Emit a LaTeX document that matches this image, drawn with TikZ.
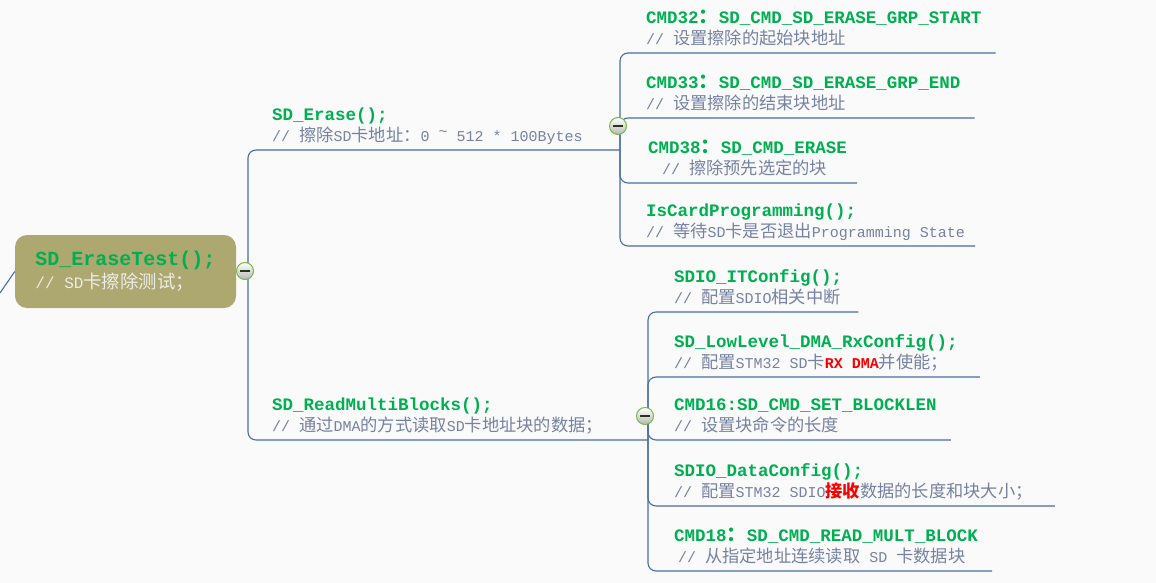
\documentclass[tikz,border=0pt]{standalone}
\usepackage{fontspec}
\usepackage{xcolor}
\usepackage{tikz}
\usetikzlibrary{positioning, calc}
\setmainfont{Liberation Mono}
\newfontfamily\cjk{Noto Sans CJK SC}[Scale=1.15]
\definecolor{codegreen}{RGB}{0,176,80}
\definecolor{notegray}{RGB}{118,130,162}
\definecolor{rootnote}{RGB}{236,236,230}
\definecolor{linkblue}{RGB}{72,110,168}
\definecolor{olive1}{RGB}{173,167,112}
\definecolor{foldgreen}{RGB}{118,186,64}
\definecolor{hotred}{RGB}{250,0,0}
\definecolor{paper}{RGB}{250,250,251}
\newcommand{\zh}[1]{{\cjk #1}}
\newcommand{\fn}[1]{{\color{codegreen}\bfseries\fontsize{17.5}{21}\selectfont #1}}
\newcommand{\cm}[1]{{\color{notegray}#1\strut}}
\newcommand{\hl}[1]{\textcolor{hotred}{\bfseries #1}}
\newcommand{\hitilde}{\raisebox{0.3em}{\textasciitilde}}

\begin{document}
\begin{tikzpicture}[
  x=1pt, y=-1pt,
  font=\fontsize{15}{21}\selectfont,
  topic/.style={anchor=south west, inner xsep=0pt, inner ysep=2pt, align=left},
  rootbox/.style={rectangle, rounded corners=12pt, fill=olive1, inner xsep=20pt,
                  minimum width=221pt, minimum height=73pt, align=left,
                  font=\fontsize{16}{23}\selectfont},
  link/.style={draw=linkblue, line width=1.1pt, rounded corners=8pt},
  fold/.style={circle, draw=foldgreen, line width=1pt, top color=white,
               bottom color=black!28, minimum size=17pt, inner sep=0pt,
               path picture={\draw[black!70!foldgreen, line width=1.6pt]
                 ([xshift=-5pt]path picture bounding box.center) --
                 ([xshift=5pt]path picture bounding box.center);}},
]
\useasboundingbox (0,0) rectangle (1156,583);
\fill[paper] (0,0) rectangle (1156,583);

\coordinate (roothub)  at (248,271);
\coordinate (erasehub) at (620,126);
\coordinate (readhub)  at (648,416);
\coordinate (offpage)  at (0,293);

\node[rootbox] (root) at (125.5,271.5)
  {{\color{codegreen}\bfseries\fontsize{20}{23}\selectfont SD\_EraseTest();}\\
   {\color{rootnote}// SD\zh{卡擦除测试；}}};

\node[topic] (erase) at (272,150)
  {\fn{SD\_Erase();}\\\cm{// \zh{擦除}SD\zh{卡地址：}0 \hitilde{} 512 * 100Bytes}};
\node[topic] (readblk) at (272,440)
  {\fn{SD\_ReadMultiBlocks();}\\\cm{// \zh{通过}DMA\zh{的方式读取}SD\zh{卡地址块的数据；}}};

\node[topic] (cmd32) at (646,53)
  {\fn{CMD32\zh{：}SD\_CMD\_SD\_ERASE\_GRP\_START}\\\cm{// \zh{设置擦除的起始块地址}}};
\node[topic] (cmd33) at (646,118)
  {\fn{CMD33\zh{：}SD\_CMD\_SD\_ERASE\_GRP\_END}\\\cm{// \zh{设置擦除的结束块地址}}};
\node[topic] (cmd38) at (648,183)
  {\fn{CMD38\zh{：}SD\_CMD\_ERASE}\\\cm{\hspace*{14pt}// \zh{擦除预先选定的块}}};
\node[topic] (iscard) at (646,246)
  {\fn{IsCardProgramming();}\\\cm{// \zh{等待}SD\zh{卡是否退出}Programming State}};

\node[topic] (itcfg) at (674,312)
  {\fn{SDIO\_ITConfig();}\\\cm{// \zh{配置}SDIO\zh{相关中断}}};
\node[topic] (dmacfg) at (674,377)
  {\fn{SD\_LowLevel\_DMA\_RxConfig();}\\\cm{// \zh{配置}STM32 SD\zh{卡}\hl{RX DMA}\zh{并使能；}}};
\node[topic] (cmd16) at (674,440)
  {\fn{CMD16:SD\_CMD\_SET\_BLOCKLEN}\\\cm{// \zh{设置块命令的长度}}};
\node[topic] (datacfg) at (674,506)
  {\fn{SDIO\_DataConfig();}\\\cm{// \zh{配置}STM32 SDIO\hl{\zh{接收}}\zh{数据的长度和块大小；}}};
\node[topic] (cmd18) at (674,571)
  {\fn{CMD18\zh{：}SD\_CMD\_READ\_MULT\_BLOCK}\\\cm{\hspace*{4pt}// \zh{从指定地址连续读取} SD \zh{卡数据块}}};

\draw[link] (offpage) -- (root.west);
\draw[link] (root.east) -- (roothub);
\draw[link] (roothub) |- (erasehub |- erase.south west);
\draw[link] (roothub) |- (readhub |- readblk.south west);

\draw[link] (erasehub) |- ([xshift=14pt]cmd32.south east);
\draw[link] (erasehub) |- ([xshift=14pt]cmd33.south east);
\draw[link] (erasehub) |- ([xshift=10pt]cmd38.south east);
\draw[link] (erasehub) |- ([xshift=10pt]iscard.south east);

\draw[link] (readhub) |- ([xshift=16pt]itcfg.south east);
\draw[link] (readhub) |- ([xshift=22pt]dmacfg.south east);
\draw[link] (readhub) |- ([xshift=14pt]cmd16.south east);
\draw[link] (readhub) |- ([xshift=22pt]datacfg.south east);
\draw[link] (readhub) |- ([xshift=14pt]cmd18.south east);

\node[fold] (rootfold)  at ([xshift=-3pt]roothub) {};
\node[fold] (erasefold) at ([xshift=-2pt]erasehub) {};
\node[fold] (readfold)  at ([xshift=-3pt]readhub) {};

\end{tikzpicture}
\end{document}
